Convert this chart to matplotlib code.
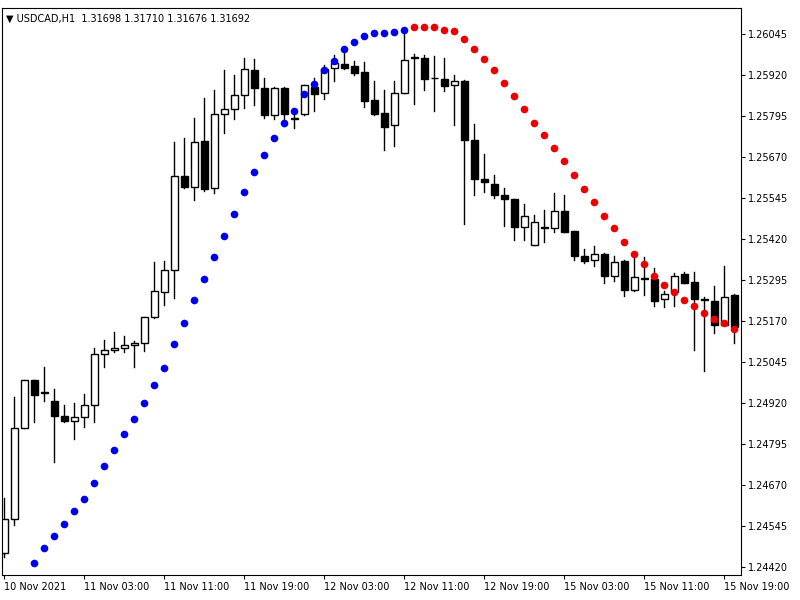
import numpy as np
import matplotlib
matplotlib.use('Agg')
import matplotlib.pyplot as plt
from matplotlib.patches import Rectangle

# USDCAD H1 candles
opens = [1.24463, 1.24566, 1.24844, 1.24990, 1.24951, 1.24926, 1.24881, 1.24865, 1.24878, 1.24914,
         1.25070, 1.25082, 1.25088, 1.25097, 1.25103, 1.25183, 1.25259, 1.25326, 1.25610, 1.25579,
         1.25719, 1.25576, 1.25799, 1.25817, 1.25857, 1.25933, 1.25881, 1.25796, 1.25881, 1.25786,
         1.25799, 1.25884, 1.25863, 1.25942, 1.25954, 1.25948, 1.25927, 1.25844, 1.25802, 1.25768,
         1.25863, 1.25972, 1.25972, 1.25911, 1.25908, 1.25890, 1.25902, 1.25722, 1.25603, 1.25588,
         1.25555, 1.25542, 1.25457, 1.25402, 1.25454, 1.25454, 1.25506, 1.25445, 1.25369, 1.25356,
         1.25375, 1.25308, 1.25353, 1.25265, 1.25301, 1.25298, 1.25237, 1.25259, 1.25314, 1.25289,
         1.25234, 1.25231, 1.25158, 1.25250]
highs = [1.24630, 1.24939, 1.24990, 1.24990, 1.25030, 1.24963, 1.24914, 1.24920, 1.24948, 1.25088,
         1.25112, 1.25137, 1.25125, 1.25109, 1.25183, 1.25350, 1.25353, 1.25716, 1.25728, 1.25789,
         1.25850, 1.25875, 1.25933, 1.25918, 1.25972, 1.25969, 1.25911, 1.25884, 1.25884, 1.25799,
         1.25890, 1.25911, 1.25951, 1.25979, 1.25988, 1.25963, 1.25960, 1.25902, 1.25875, 1.25902,
         1.26055, 1.25982, 1.25979, 1.25976, 1.25972, 1.25918, 1.25905, 1.25771, 1.25677, 1.25613,
         1.25576, 1.25542, 1.25527, 1.25494, 1.25509, 1.25561, 1.25555, 1.25445, 1.25390, 1.25399,
         1.25378, 1.25369, 1.25356, 1.25375, 1.25366, 1.25332, 1.25262, 1.25317, 1.25320, 1.25320,
         1.25244, 1.25277, 1.25338, 1.25253]
lows = [1.24451, 1.24548, 1.24844, 1.24862, 1.24926, 1.24740, 1.24862, 1.24810, 1.24847, 1.24862,
        1.25030, 1.25076, 1.25076, 1.25030, 1.25079, 1.25179, 1.25219, 1.25240, 1.25576, 1.25539,
        1.25567, 1.25561, 1.25741, 1.25786, 1.25820, 1.25829, 1.25789, 1.25786, 1.25765, 1.25759,
        1.25796, 1.25811, 1.25847, 1.25902, 1.25939, 1.25918, 1.25823, 1.25796, 1.25692, 1.25704,
        1.25863, 1.25832, 1.25875, 1.25811, 1.25869, 1.25768, 1.25466, 1.25555, 1.25564, 1.25545,
        1.25460, 1.25417, 1.25417, 1.25402, 1.25411, 1.25442, 1.25442, 1.25356, 1.25347, 1.25338,
        1.25286, 1.25292, 1.25247, 1.25262, 1.25250, 1.25216, 1.25213, 1.25216, 1.25286, 1.25082,
        1.25018, 1.25134, 1.25158, 1.25103]
closes = [1.24566, 1.24844, 1.24990, 1.24945, 1.24953, 1.24881, 1.24865, 1.24878, 1.24914, 1.25070,
          1.25082, 1.25088, 1.25097, 1.25103, 1.25183, 1.25262, 1.25326, 1.25610, 1.25579, 1.25716,
          1.25573, 1.25799, 1.25817, 1.25857, 1.25936, 1.25881, 1.25796, 1.25881, 1.25799, 1.25788,
          1.25890, 1.25860, 1.25939, 1.25957, 1.25942, 1.25924, 1.25841, 1.25799, 1.25762, 1.25863,
          1.25966, 1.25974, 1.25908, 1.25909, 1.25887, 1.25902, 1.25722, 1.25603, 1.25594, 1.25555,
          1.25542, 1.25457, 1.25491, 1.25472, 1.25456, 1.25506, 1.25442, 1.25369, 1.25353, 1.25375,
          1.25308, 1.25350, 1.25265, 1.25305, 1.25299, 1.25231, 1.25253, 1.25308, 1.25286, 1.25237,
          1.25236, 1.25158, 1.25244, 1.25152]

# trailing dots (start at bar 3): blue while rising, red while falling
dots_start = 3
blue_dots = [1.24432, 1.24478, 1.24515, 1.24551, 1.24591, 1.24627, 1.24676, 1.24728, 1.24777, 1.24826,
             1.24871, 1.24920, 1.24975, 1.25027, 1.25100, 1.25164, 1.25234, 1.25298, 1.25366, 1.25430,
             1.25497, 1.25564, 1.25625, 1.25674, 1.25728, 1.25774, 1.25811, 1.25860, 1.25893, 1.25933,
             1.25963, 1.25997, 1.26021, 1.26037, 1.26046, 1.26046, 1.26049, 1.26055]
red_dots = [1.26064, 1.26064, 1.26064, 1.26055, 1.26052, 1.26030, 1.25997, 1.25969, 1.25933, 1.25896,
            1.25854, 1.25817, 1.25774, 1.25735, 1.25698, 1.25658, 1.25613, 1.25573, 1.25533, 1.25488,
            1.25454, 1.25411, 1.25375, 1.25344, 1.25308, 1.25280, 1.25259, 1.25234, 1.25216, 1.25195,
            1.25176, 1.25164, 1.25146]

time_labels = ['10 Nov 2021', '11 Nov 03:00', '11 Nov 11:00', '11 Nov 19:00', '12 Nov 03:00',
               '12 Nov 11:00', '12 Nov 19:00', '15 Nov 03:00', '15 Nov 11:00', '15 Nov 19:00']
price_ticks = [1.26045, 1.25920, 1.25795, 1.25670, 1.25545, 1.25420, 1.25295, 1.25170,
               1.25045, 1.24920, 1.24795, 1.24670, 1.24545, 1.24420]

fig = plt.figure(figsize=(8, 6), dpi=100)
ax = fig.add_axes([0.0025, 0.042, 0.924, 0.945])

bw = 0.7
for i, (o, h, l, c) in enumerate(zip(opens, highs, lows, closes)):
    ax.plot([i, i], [l, h], color='black', lw=1, zorder=1)
    bottom = min(o, c); height = max(abs(c - o), 0.000015)
    face = 'white' if c >= o else 'black'
    ax.add_patch(Rectangle((i - bw/2, bottom), bw, height, facecolor=face,
                           edgecolor='black', lw=1, zorder=2))

bx = np.arange(dots_start, dots_start + len(blue_dots))
rx = np.arange(bx[-1] + 1, bx[-1] + 1 + len(red_dots))
ax.plot(bx, blue_dots, 'o', color='#0000ee', ms=5.5, mec='none', zorder=3)
ax.plot(rx, red_dots, 'o', color='#ee0000', ms=5.5, mec='none', zorder=3)

ax.set_xlim(-0.2, 73.7)
ax.set_ylim(1.24396, 1.26124)
ax.yaxis.tick_right()
ax.set_yticks(price_ticks)
ax.set_yticklabels([f'{p:.5f}' for p in price_ticks], fontsize=7)
ax.set_xticks(np.arange(len(time_labels)) * 8)
ax.set_xticklabels(time_labels, fontsize=7, ha='left')
ax.tick_params(axis='both', length=3, pad=2)
for s in ax.spines.values():
    s.set_linewidth(0.8)

ax.text(0.005, 0.99, '\u25bc USDCAD,H1  1.31698 1.31710 1.31676 1.31692',
        transform=ax.transAxes, fontsize=7, va='top', ha='left')

plt.savefig('out.png', dpi=100)
